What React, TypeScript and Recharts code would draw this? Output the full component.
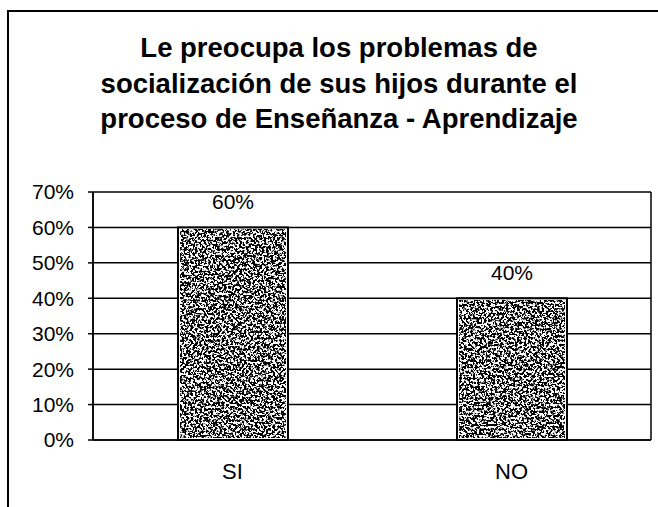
import { BarChart, Bar, XAxis, YAxis, CartesianGrid, LabelList } from 'recharts'

const categories = ['SI', 'NO']
const shares = [0.6, 0.4]
const yTicks = [0, 0.1, 0.2, 0.3, 0.4, 0.5, 0.6, 0.7]
const titleLines = [
  'Le preocupa los problemas de',
  'socialización de sus hijos durante el',
  'proceso de Enseñanza - Aprendizaje',
]

const data = categories.map((name, i) => ({ name, value: shares[i] }))

const FONT = '"Liberation Sans", Arial, sans-serif'
const pct = (v: number) => `${Math.round(v * 100)}%`

// white box, grainy black noise on top, solid outline
function SpeckledBar(props: any) {
  const { x, y, width, height } = props
  if (!height) return null
  return (
    <g>
      <rect x={x} y={y} width={width} height={height} fill="#fff" />
      <rect x={x + 2} y={y + 2} width={width - 4} height={height - 4} fill="#000" filter="url(#speckle)" />
      <rect x={x} y={y} width={width} height={height} fill="none" stroke="#000" strokeWidth={2} />
    </g>
  )
}

export default function App() {
  return (
    <div style={{ position: 'absolute', left: 0, top: 0, width: 658, height: 507, background: '#fff', overflow: 'hidden', fontFamily: FONT }}>
      <div style={{ position: 'absolute', left: 7, top: 10, width: 660, height: 520, border: '2px solid #000', boxSizing: 'border-box' }} />
      <div style={{ position: 'absolute', left: 0, top: 30, width: 678, textAlign: 'center', fontSize: 27.5, fontWeight: 'bold', lineHeight: '35.5px', color: '#000' }}>
        {titleLines.map(l => <div key={l}>{l}</div>)}
      </div>
      <div style={{ position: 'absolute', left: 0, top: 0 }}>
        <BarChart width={658} height={507} data={data} margin={{ top: 192, right: 7, bottom: 27, left: 0 }}>
          <defs>
            <filter id="speckle" x="0" y="0" width="1" height="1" colorInterpolationFilters="sRGB">
              <feTurbulence type="fractalNoise" baseFrequency="0.45" numOctaves={3} seed={7} />
              <feColorMatrix type="matrix" values="0 0 0 0 0  0 0 0 0 0  0 0 0 0 0  12 0 0 0 -5.4" />
            </filter>
          </defs>
          <CartesianGrid
            stroke="#000"
            strokeWidth={1.5}
            verticalCoordinatesGenerator={({ offset }: any) => [offset.left, offset.left + offset.width]}
          />
          <XAxis
            dataKey="name"
            height={40}
            axisLine={{ stroke: '#000', strokeWidth: 1.5 }}
            tickLine={false}
            tickSize={6}
            tickMargin={17}
            tick={{ fill: '#000', fontSize: 22, fontFamily: FONT }}
          />
          <YAxis
            width={93}
            domain={[0, 0.7]}
            ticks={yTicks}
            tickFormatter={pct}
            axisLine={{ stroke: '#000', strokeWidth: 1.5 }}
            tickLine={{ stroke: '#000', strokeWidth: 1.5 }}
            tickSize={5}
            tickMargin={14}
            tick={{ fill: '#000', fontSize: 21, fontFamily: FONT }}
          />
          <Bar dataKey="value" barSize={110} shape={SpeckledBar} isAnimationActive={false}>
            <LabelList dataKey="value" position="top" offset={18} formatter={(v: any) => pct(Number(v))} fill="#000" fontSize={21} fontFamily={FONT} />
          </Bar>
        </BarChart>
      </div>
    </div>
  )
}
